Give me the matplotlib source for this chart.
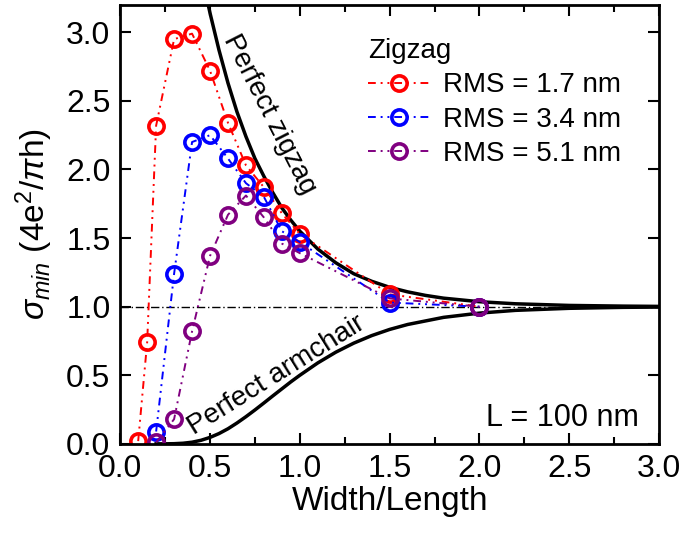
import matplotlib.pyplot as plt

plt.rcParams['font.family'] = ['Liberation Sans', 'DejaVu Sans']
plt.rcParams['mathtext.fontset'] = 'custom'
plt.rcParams['mathtext.rm'] = 'Liberation Sans'
plt.rcParams['mathtext.it'] = 'Liberation Sans:italic'

# disordered zigzag ribbons (measured)
ratio_red = [0.1, 0.15, 0.2, 0.3, 0.4, 0.5, 0.6, 0.7, 0.8, 0.9, 1.0, 1.5, 2.0]
rms_17 = [0.02, 0.74, 2.32, 2.95, 2.99, 2.72, 2.34, 2.03, 1.87, 1.68, 1.53, 1.09, 1.00]
ratio_other = [0.2, 0.3, 0.4, 0.5, 0.6, 0.7, 0.8, 0.9, 1.0, 1.5, 2.0]
rms_34 = [0.09, 1.24, 2.20, 2.25, 2.08, 1.90, 1.80, 1.55, 1.47, 1.03, 1.00]
rms_51 = [0.01, 0.18, 0.82, 1.37, 1.67, 1.81, 1.65, 1.46, 1.39, 1.06, 1.00]

# perfect edges
zz_x = [0.45, 0.49, 0.5, 0.55, 0.6, 0.65, 0.7, 0.75, 0.8, 0.85, 0.9, 0.95,
        1.0, 1.1, 1.2, 1.3, 1.4, 1.5, 1.6, 1.7, 1.8, 2.0, 2.2, 2.5, 2.8, 3.0]
zz_y = [3.45, 3.20, 3.14, 2.87, 2.63, 2.42, 2.24, 2.08, 1.95, 1.83, 1.72, 1.63,
        1.55, 1.42, 1.32, 1.24, 1.185, 1.141, 1.108, 1.082, 1.062, 1.036,
        1.021, 1.009, 1.004, 1.002]
ac_x = [0.2, 0.25, 0.3, 0.35, 0.4, 0.45, 0.5, 0.55, 0.6, 0.65, 0.7, 0.75,
        0.8, 0.85, 0.9, 0.95, 1.0, 1.1, 1.2, 1.3, 1.4, 1.5, 1.6, 1.8, 2.0,
        2.2, 2.5, 2.8, 3.0]
ac_y = [0.0, 0.0002, 0.0012, 0.0045, 0.012, 0.026, 0.047, 0.075, 0.110,
        0.152, 0.198, 0.247, 0.298, 0.350, 0.401, 0.452, 0.500, 0.590, 0.668,
        0.734, 0.789, 0.834, 0.870, 0.922, 0.953, 0.973, 0.988, 0.995, 0.997]

fig = plt.figure(figsize=(6.83, 5.38), dpi=100)
ax = fig.add_axes([0.176, 0.175, 0.789, 0.816])

ax.axhline(1.0, color='black', lw=1.0, dashes=(6, 2, 1, 2))
ax.plot(zz_x, zz_y, color='black', lw=2.5)
ax.plot(ac_x, ac_y, color='black', lw=2.5)

dash = (4, 2.5, 1, 2.5, 1, 2.5)
for xs, ys, c, lab in [(ratio_red, rms_17, 'red', 'RMS = 1.7 nm'),
                       (ratio_other, rms_34, 'blue', 'RMS = 3.4 nm'),
                       (ratio_other, rms_51, 'purple', 'RMS = 5.1 nm')]:
    ax.plot(xs, ys, color=c, lw=1.4, dashes=dash, marker='o', ms=11,
            mfc='none', mec=c, mew=2.6, label=lab)

ax.set_xlim(0, 3)
ax.set_ylim(0, 3.2)
ax.set_xticks([0, 0.5, 1.0, 1.5, 2.0, 2.5, 3.0])
ax.set_xticks([0.25, 0.75, 1.25, 1.75, 2.25, 2.75], minor=True)
ax.set_yticks([0, 0.5, 1.0, 1.5, 2.0, 2.5, 3.0])
ax.xaxis.set_major_formatter(plt.FormatStrFormatter('%.1f'))
ax.yaxis.set_major_formatter(plt.FormatStrFormatter('%.1f'))
ax.tick_params(which='both', direction='in', top=True, right=True,
               labelsize=23, width=1.5)
ax.tick_params(which='major', length=8, pad=7)
ax.tick_params(which='minor', length=5)
for s in ax.spines.values():
    s.set_linewidth(2)

ax.set_xlabel('Width/Length', fontsize=24, labelpad=2)
ax.set_ylabel(r'$\sigma_{min}$ (4e$^2$/$\pi$h)', fontsize=24, labelpad=8)

ax.text(0.83, 2.40, 'Perfect zigzag', fontsize=20, rotation=-63,
        ha='center', va='center', rotation_mode='anchor')
ax.text(0.87, 0.50, 'Perfect armchair', fontsize=20, rotation=32,
        ha='center', va='center', rotation_mode='anchor')
ax.text(2.89, 0.13, 'L = 100 nm', fontsize=22, ha='right', va='baseline')

leg = ax.legend(loc='upper left', bbox_to_anchor=(0.44, 0.95), frameon=False,
                title='Zigzag', fontsize=20, title_fontsize=20,
                alignment='left', handlelength=2.2, handletextpad=0.5,
                labelspacing=0.3, borderaxespad=0)

fig.savefig('out.png', dpi=100)
